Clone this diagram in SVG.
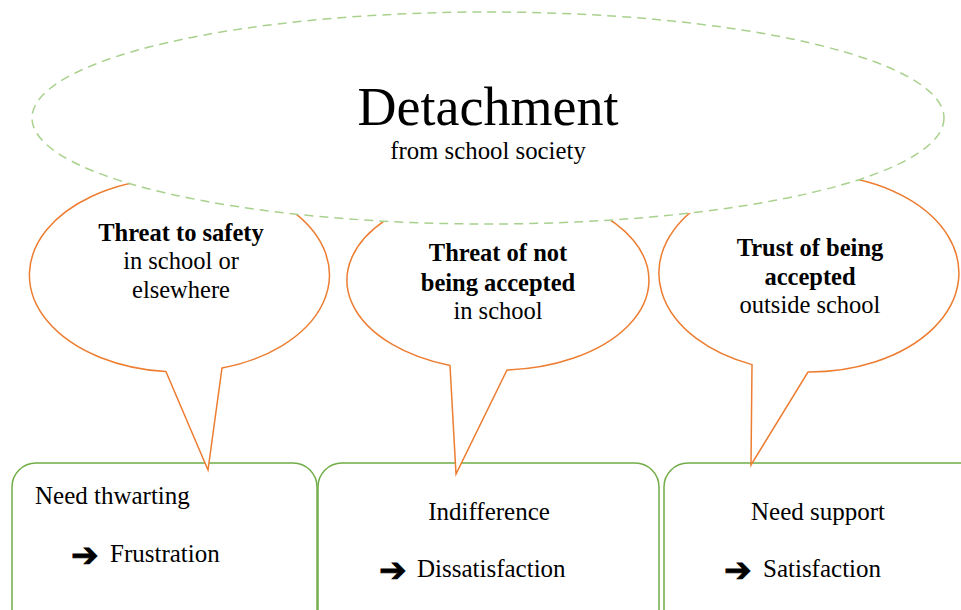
<svg xmlns="http://www.w3.org/2000/svg" width="961" height="610" viewBox="0 0 961 610">
<style>
.bubble{fill:#fff;stroke:#ED7D31;stroke-width:1.5;stroke-linejoin:miter}
.box{fill:#fff;stroke:#70AD47;stroke-width:1.5}
.big{fill:#fff;stroke:#A9D18E;stroke-width:1.5;stroke-dasharray:9 6}
text{font-family:"Liberation Serif","Times New Roman",serif;fill:#000}
.t{font-size:24.5px;text-anchor:middle}
.b{font-weight:bold}
.bx{font-size:25px}
.arr{font-family:"DejaVu Sans",sans-serif;font-size:33px;font-weight:bold;stroke:#000;stroke-width:0.8}
</style>
<rect width="961" height="610" fill="#fff"/>
<g id="box1"><rect class="box" x="12" y="463" width="305" height="190" rx="24"/>
<text class="bx" x="35" y="504">Need thwarting</text>
<text class="arr" x="71" y="566">➔</text>
<text class="bx" x="110" y="562">Frustration</text></g>
<g id="box2"><rect class="box" x="318" y="463" width="341" height="190" rx="24"/>
<text class="bx" x="489" y="520" text-anchor="middle">Indifference</text>
<text class="arr" x="379" y="581">➔</text>
<text class="bx" x="417" y="577">Dissatisfaction</text></g>
<g id="box3"><rect class="box" x="664" y="463" width="320" height="190" rx="24"/>
<text class="bx" x="818" y="520" text-anchor="middle">Need support</text>
<text class="arr" x="724" y="581">➔</text>
<text class="bx" x="763" y="577">Satisfaction</text></g>
<g id="connectors">
<path id="bubble1" class="bubble" d="M166,371.6 A150,97 0 1 1 222,368 L208,470 Z"/>
<path id="bubble2" class="bubble" d="M450,365.5 A151,90 0 1 1 507,370 L456,474 Z"/>
<path id="bubble3" class="bubble" d="M752,364.6 A150,99 0 1 1 808,372 L751,465 Z"/>
</g>
<g id="detachment"><ellipse class="big" cx="488" cy="118" rx="456" ry="106"/>
<text x="488" y="125" font-size="54" text-anchor="middle">Detachment</text>
<text x="488" y="159" font-size="24.8" text-anchor="middle">from school society</text></g>
<g id="threat-safety">
<text class="t b" x="181" y="241">Threat to safety</text>
<text class="t" x="181" y="269">in school or</text>
<text class="t" x="181" y="298">elsewhere</text></g>
<g id="threat-accepted">
<text class="t b" x="498" y="261">Threat of not</text>
<text class="t b" x="498" y="291">being accepted</text>
<text class="t" x="498" y="319">in school</text></g>
<g id="trust-accepted">
<text class="t b" x="810" y="256">Trust of being</text>
<text class="t b" x="810" y="285">accepted</text>
<text class="t" x="810" y="313">outside school</text></g>
</svg>
